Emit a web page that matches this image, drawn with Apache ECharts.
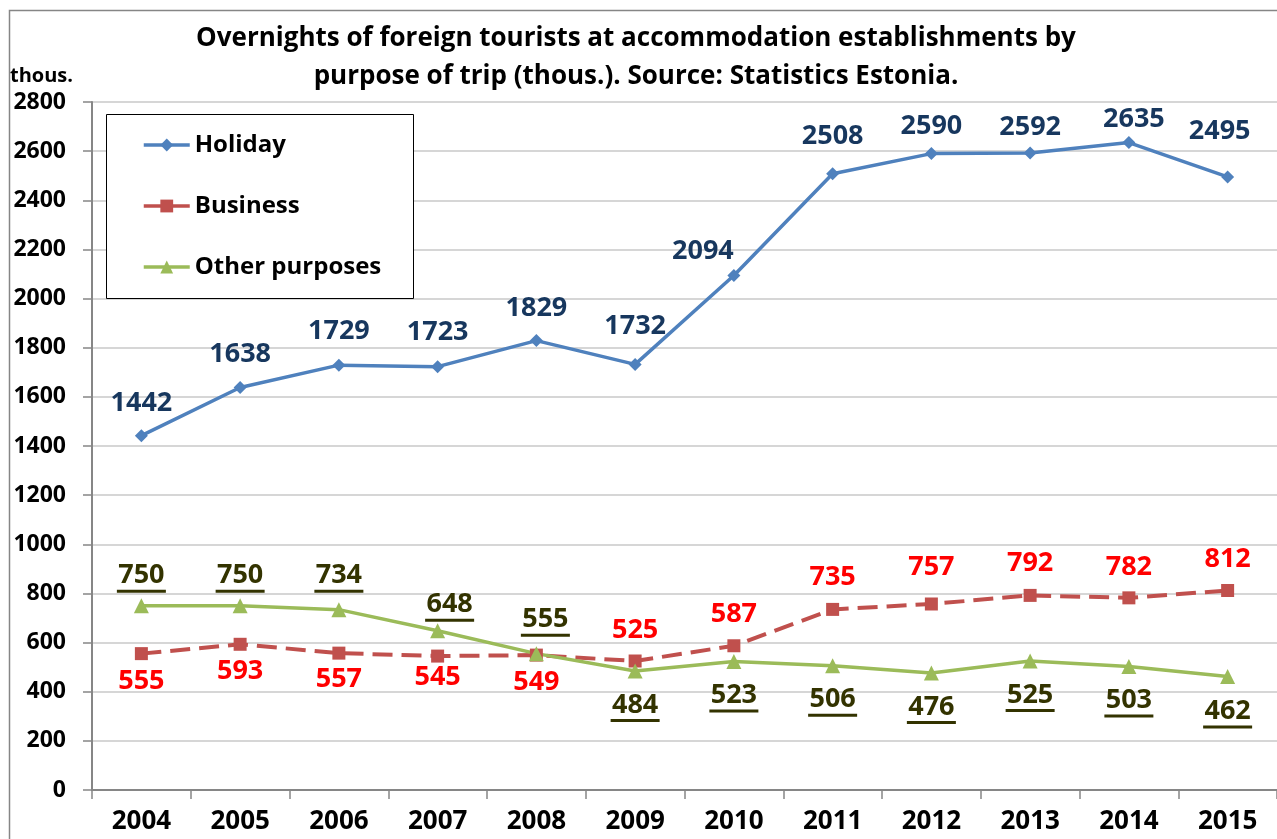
<!DOCTYPE html>
<html>
<head>
<meta charset="utf-8">
<script src="https://cdn.jsdelivr.net/npm/echarts@6/dist/echarts.min.js"></script>
<style>
html,body{margin:0;padding:0;background:#fff;}
#chart{width:1277px;height:839px;}
</style>
</head>
<body>
<div id="chart"></div>
<script>
const years = ['2004','2005','2006','2007','2008','2009','2010','2011','2012','2013','2014','2015'];
const holiday = [1442,1638,1729,1723,1829,1732,2094,2508,2590,2592,2635,2495];
const business = [555,593,557,545,549,525,587,735,757,792,782,812];
const other = [750,750,734,648,555,484,523,506,476,525,503,462];

// label placement tweaks (pixels relative to each point)
const holidayLabelDx = [0,0,0,0,0,0,-31,0,0,0,5,-8];
const holidayLabelDy = [-32,-33,-34,-34,-32,-38,-24,-37,-27,-26,-23,-46];
const businessLabelDx = [0,0,0,0,0,0,0,0,0,0,0,0];
const businessLabelDy = [28,27,26,21,27,-31,-31,-32,-37,-32,-31,-31];
const otherLabelDx = [0,0,0,12,9,0,0,0,0,0,0,0];
const otherLabelDy = [-30,-30,-34,-26,-34,34,34,34,34,34,34,35];

const FONT = '"Open Sans", "Noto Sans", sans-serif';

function items(vals, dx, dy, extraDy) {
  return vals.map((v, i) => ({ value: v, label: { offset: [dx[i], dy[i] + (extraDy || 0)] } }));
}

const chart = echarts.init(document.getElementById('chart'), null, { renderer: 'canvas' });

const option = {
  animation: false,
  backgroundColor: '#ffffff',
  textStyle: { fontFamily: FONT },
  title: {
    text: 'Overnights of foreign tourists at accommodation establishments by\npurpose of trip (thous.). Source: Statistics Estonia.',
    left: 631, top: 15, textAlign: 'center',
    textStyle: { fontFamily: FONT, fontSize: 26, fontWeight: 'bold', color: '#000', lineHeight: 38 }
  },
  graphic: [
    { type: 'rect', left: 7, top: 8, shape: { width: 1300, height: 900 }, style: { fill: 'none', stroke: '#868686', lineWidth: 1.5 }, z: -1 },
    { type: 'rect', left: 106, top: 114, shape: { width: 307, height: 184 }, style: { fill: '#fff', stroke: '#000', lineWidth: 1 }, z: 5 },
    { type: 'text', left: 10, top: 66, style: { text: 'thous.', font: 'bold 20px ' + FONT, fill: '#000' } }
  ],
  legend: {
    orient: 'vertical',
    left: 142, top: 131,
    padding: 0,
    itemWidth: 46, itemHeight: 16,
    itemGap: 33,
    z: 10,
    lineStyle: { width: 3.5 },
    textStyle: { fontFamily: FONT, fontSize: 24, fontWeight: 'bold', color: '#000', lineHeight: 28 },
    data: ['Holiday', 'Business', 'Other purposes']
  },
  grid: { left: 92, top: 102, width: 1196, height: 688, containLabel: false },
  xAxis: {
    type: 'category',
    data: years,
    boundaryGap: true,
    axisLine: { lineStyle: { color: '#868686', width: 2 } },
    axisTick: { show: true, alignWithLabel: false, length: 9, lineStyle: { color: '#868686', width: 1.5 }, inside: false },
    axisLabel: { fontFamily: FONT, fontSize: 26, fontWeight: 'bold', color: '#000', margin: 19 },
    splitLine: { show: false }
  },
  yAxis: {
    type: 'value',
    min: 0, max: 2800, interval: 200,
    axisLine: { show: true, lineStyle: { color: '#868686', width: 2 } },
    axisTick: { show: true, length: 9, lineStyle: { color: '#868686', width: 1.5 } },
    axisLabel: { fontFamily: FONT, fontSize: 23, fontWeight: 'bold', color: '#000', margin: 26, formatter: v => String(v) },
    splitLine: { show: true, lineStyle: { color: '#C8C8C8', width: 1.5 } }
  },
  series: [
    {
      name: 'Holiday', type: 'line',
      data: items(holiday, holidayLabelDx, holidayLabelDy),
      symbol: 'diamond', symbolSize: 13,
      lineStyle: { color: '#4F81BD', width: 3.5 },
      itemStyle: { color: '#4F81BD' },
      label: { show: true, position: 'inside', fontFamily: FONT, fontSize: 27, fontWeight: 'bold', color: '#17375E' },
      z: 3
    },
    {
      name: 'Business', type: 'line',
      data: items(business, businessLabelDx, businessLabelDy),
      symbol: 'rect', symbolSize: 13,
      lineStyle: { color: '#C0504D', width: 4, type: [20, 9] },
      itemStyle: { color: '#C0504D' },
      label: { show: true, position: 'inside', fontFamily: FONT, fontSize: 27, fontWeight: 'bold', color: '#FF0000' },
      z: 3
    },
    {
      name: 'Other purposes', type: 'line',
      data: items(other, otherLabelDx, otherLabelDy, 1.5),
      symbol: 'triangle', symbolSize: 15,
      lineStyle: { color: '#9BBB59', width: 3.5 },
      itemStyle: { color: '#9BBB59' },
      label: {
        show: true, position: 'inside',
        formatter: p => '{v|' + p.value + '}\n{u| }',
        rich: {
          v: { fontFamily: FONT, fontSize: 27, fontWeight: 'bold', color: '#333300', lineHeight: 28, align: 'center' },
          u: { width: 49, height: 3, lineHeight: 3, fontSize: 1, backgroundColor: '#333300', align: 'center' }
        }
      },
      z: 3
    }
  ]
};
chart.setOption(option);
</script>
</body>
</html>
